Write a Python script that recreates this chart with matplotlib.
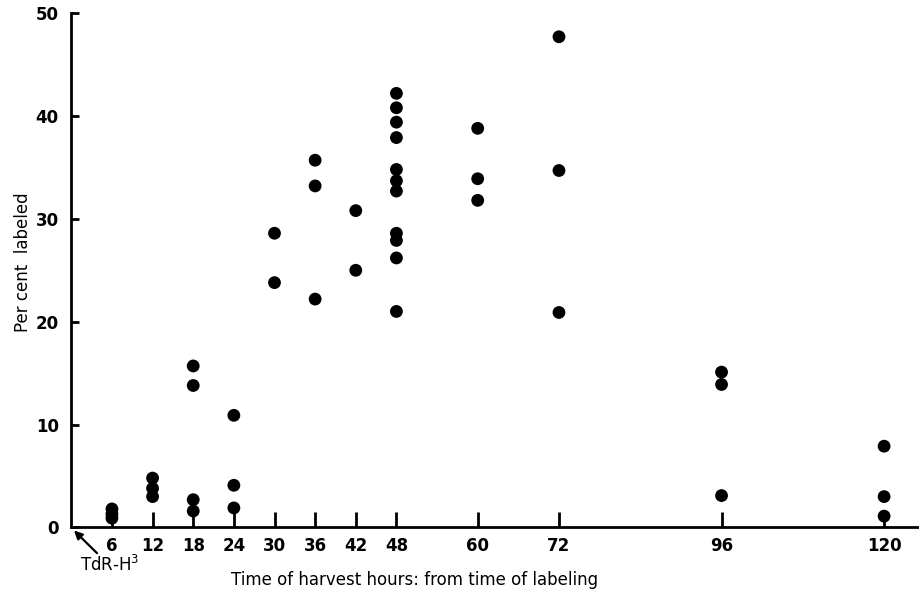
import numpy as np
import matplotlib
matplotlib.use('Agg')
import matplotlib.pyplot as plt

# hours after TdR-H3 labeling and per cent labeled cells
hours_6 = [1.8, 1.3, 0.9]
hours_12 = [4.8, 3.8, 3.0]
hours_18 = [15.7, 13.8, 2.7, 1.6]
hours_24 = [10.9, 4.1, 1.9]
hours_30 = [28.6, 23.8]
hours_36 = [35.7, 33.2, 22.2]
hours_42 = [30.8, 25.0]
hours_48 = [42.2, 40.8, 39.4, 37.9, 34.8, 33.7, 32.7, 28.6, 27.9, 26.2, 21.0]
hours_60 = [38.8, 33.9, 31.8]
hours_72 = [47.7, 34.7, 20.9]
hours_96 = [15.1, 13.9, 3.1]
hours_120 = [7.9, 3.0, 1.1]

times = [6, 12, 18, 24, 30, 36, 42, 48, 60, 72, 96, 120]
values = [hours_6, hours_12, hours_18, hours_24, hours_30, hours_36,
          hours_42, hours_48, hours_60, hours_72, hours_96, hours_120]
yticks = [0, 10, 20, 30, 40, 50]

plt.rcParams['font.family'] = 'DejaVu Sans'

fig = plt.figure(figsize=(9.2, 5.96), dpi=100)
ax = fig.add_axes([0.0775, 0.115, 0.9225, 0.863])

for t, vals in zip(times, values):
    ax.scatter([t] * len(vals), vals, s=85, color='black', edgecolors='none',
               zorder=3, clip_on=False)

ax.set_xlim(0, 125.3)
ax.set_ylim(0, 50)
ax.set_xticks(times)
ax.set_yticks(yticks)

for side in ['top', 'right']:
    ax.spines[side].set_visible(False)
for side in ['left', 'bottom']:
    ax.spines[side].set_linewidth(2)

ax.tick_params(axis='x', direction='in', length=11, width=2, pad=7,
               labelsize=12)
ax.tick_params(axis='y', direction='in', length=6, width=2, pad=9,
               labelsize=12)
for lab in ax.get_xticklabels() + ax.get_yticklabels():
    lab.set_fontweight('bold')

fig.text(0.025, 0.56, 'Per cent  labeled', rotation=90, ha='center',
         va='center', fontsize=12)
fig.text(0.451, 0.027, 'Time of harvest hours: from time of labeling',
         ha='center', va='center', fontsize=12)

# TdR-H3 marker under the origin
ax.text(5.6, -3.6, 'TdR-H$^3$', ha='center', va='center', fontsize=12,
        clip_on=False)
ax.annotate('', xy=(0.4, -0.3), xytext=(3.8, -2.5), textcoords='data',
            annotation_clip=False,
            arrowprops=dict(arrowstyle='-|>', color='black', lw=1.6,
                            mutation_scale=12, shrinkA=0, shrinkB=0))

fig.savefig('out.png', dpi=100)
